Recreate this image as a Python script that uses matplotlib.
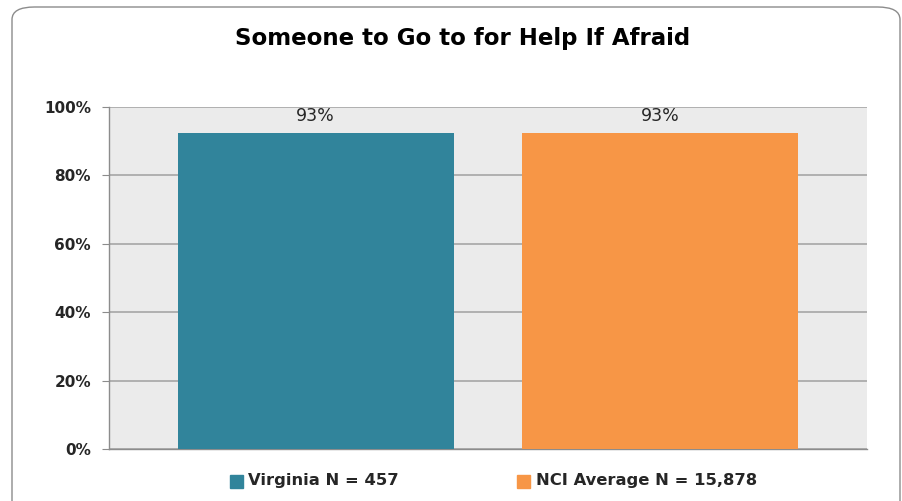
import matplotlib
matplotlib.use("Agg")
import matplotlib.pyplot as plt
from matplotlib.patches import FancyBboxPatch, Rectangle

series = ["Virginia N = 457", "NCI Average N = 15,878"]
values = [92.5, 92.5]
labels = ["93%", "93%"]
colors = ["#31849B", "#F79646"]
yticks = [0, 20, 40, 60, 80, 100]

plt.rcParams["font.family"] = ["DejaVu Sans"]

W, H = 903, 501
fig = plt.figure(figsize=(W / 100, H / 100), dpi=100)

# rounded chart frame (bottom edge runs off the image)
frame = FancyBboxPatch((12 / W, -30 / H), 888 / W, (501 - 7 + 30) / H,
                       boxstyle="round,pad=0,rounding_size=0.025",
                       transform=fig.transFigure, fill=False,
                       edgecolor="#8C8C8C", lw=1.0)
fig.patches.append(frame)

ax = fig.add_axes([109 / W, 1 - 449 / H, 758 / W, 342 / H])
ax.set_facecolor("#EBEBEB")
x = list(range(len(values)))
ax.bar(x, values, width=0.8, color=colors, zorder=3)
for xi, v, lab in zip(x, values, labels):
    ax.text(xi, v + 2.2, lab, ha="center", va="bottom", fontsize=12.5,
            color="#262626")

ax.set_xlim(-0.6, 1.6)
ax.set_ylim(0, 100)
ax.set_yticks(yticks)
ax.set_yticklabels([f"{t}%" for t in yticks], fontsize=11, fontweight="bold",
                   color="#262626")
ax.set_xticks([])
ax.yaxis.grid(True, color="#A6A6A6", lw=1.2, zorder=1)
ax.tick_params(axis="y", length=5, color="#8C8C8C", pad=8)
for s in ["top", "right"]:
    ax.spines[s].set_visible(False)
for s in ["left", "bottom"]:
    ax.spines[s].set_color("#8C8C8C")
    ax.spines[s].set_linewidth(1.0)

fig.text(463 / W, 1 - 38 / H, "Someone to Go to for Help If Afraid",
         ha="center", va="center", fontsize=16.5, fontweight="bold",
         color="#000000")

# legend
for sx, tx, name, c in zip([230, 517], [248, 536], series, colors):
    fig.patches.append(Rectangle((sx / W, 1 - 488 / H), 13 / W, 13 / H,
                                 transform=fig.transFigure, color=c))
    fig.text(tx / W, 1 - 481 / H, name, ha="left", va="center",
             fontsize=11.8, fontweight="bold", color="#262626")

fig.savefig("out.png", dpi=100)
